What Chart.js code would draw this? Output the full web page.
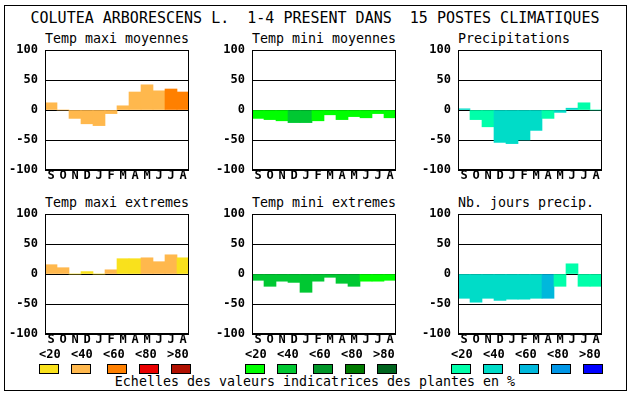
<!DOCTYPE html>
<html>
<head>
<meta charset="utf-8">
<script src="https://cdn.jsdelivr.net/npm/chart.js@4/dist/chart.umd.min.js"></script>
<style>
    body { margin: 0; background: #fff; }
    #page { position: relative; width: 630px; height: 394px; overflow: hidden; font-family: 'DejaVu Sans Mono', monospace; color: #000; }
    .frame { position: absolute; left: 4px; top: 5px; width: 621px; height: 384px; border: 1px solid #000; }
    .txt { position: absolute; white-space: pre; }
    .mainTitle { left: 0; width: 630px; top: 9px; text-align: center; font-size: 15px; line-height: 18px; }
    .panelTitle { font-size: 13.3px; line-height: 16px; }
    .lvl { font-size: 12px; font-weight: bold; line-height: 14px; }
    .box { position: absolute; width: 18px; height: 8px; border: 1px solid #000; }
    .footer { left: 0; width: 630px; top: 374px; text-align: center; font-size: 13.3px; line-height: 16px; }
    canvas { position: absolute; }
</style>
</head>
<body>
<div id="page">
    <div class="frame"></div>
    <div class="txt mainTitle">COLUTEA ARBORESCENS L.  1-4 PRESENT DANS  15 POSTES CLIMATIQUES</div>
    <div class="txt footer">Echelles des valeurs indicatrices des plantes en %</div>
</div>
<script>
/* DATA */
const months = ['S', 'O', 'N', 'D', 'J', 'F', 'M', 'A', 'M', 'J', 'J', 'A'];
const yTicks = [-100, -50, 0, 50, 100];
const levelLabels = ['<20', '<40', '<60', '<80', '>80'];

const tmaxColors = ['#f9e11c', '#ffb84d', '#ff8000', '#ea0000', '#b01000'];
const tminColors = ['#00ff00', '#00c832', '#009628', '#007a00', '#00641e'];
const precColors = ['#00ffaa', '#00dcc8', '#00b8dc', '#0096e6', '#0000ff'];

const tmaxMoy = [12, 0, -14, -23, -26, -6, 7, 30, 42, 32, 35, 30];
const tmaxMoyLevel = [1, 1, 1, 1, 1, 1, 1, 1, 1, 1, 2, 2];

const tminMoy = [-14, -16, -18, -21, -21, -18, -8, -16, -11, -13, -6, -13];
const tminMoyLevel = [0, 0, 0, 1, 1, 0, 0, 0, 0, 0, 0, 0];

const precip = [2, -16, -28, -54, -56, -50, -34, -14, -4, 3, 12, 0];
const precipLevel = [1, 0, 0, 1, 1, 1, 1, 0, 1, 1, 0, 0];

const tmaxExt = [15.5, 10.5, 0, 4, 0, 7, 25.5, 25.5, 27, 20.5, 32, 27];
const tmaxExtLevel = [1, 1, 0, 0, 0, 1, 0, 0, 1, 1, 1, 0];

const tminExt = [-10.5, -20.5, -12, -14, -30.5, -12, -5.5, -15.5, -20.5, -12, -12, -10.5];
const tminExtLevel = [1, 1, 1, 1, 1, 1, 1, 1, 1, 0, 0, 0];

const nbJours = [-40.5, -47, -40.5, -44, -42, -42, -40.5, -40.5, -20.5, 17, -20.5, -20.5];
const nbJoursLevel = [1, 1, 1, 1, 1, 1, 1, 2, 0, 0, 0, 0];

/* LAYOUT */
const page = document.getElementById('page');
const tickFont = { family: "'DejaVu Sans Mono', monospace", size: 12, weight: 'bold' };
const padTop = 16;

const panels = [
    { title: 'Temp maxi moyennes', values: tmaxMoy, levels: tmaxMoyLevel, colors: tmaxColors, left: 45, top: 50 },
    { title: 'Temp mini moyennes', values: tminMoy, levels: tminMoyLevel, colors: tminColors, left: 252, top: 50 },
    { title: 'Precipitations', values: precip, levels: precipLevel, colors: precColors, left: 458, top: 50 },
    { title: 'Temp maxi extremes', values: tmaxExt, levels: tmaxExtLevel, colors: tmaxColors, left: 45, top: 214 },
    { title: 'Temp mini extremes', values: tminExt, levels: tminExtLevel, colors: tminColors, left: 252, top: 214 },
    { title: 'Nb. jours precip.', values: nbJours, levels: nbJoursLevel, colors: precColors, left: 458, top: 214 }
];

/* plot frame drawn round the chart area */
const framePlugin = {
    id: 'frame',
    afterDraw(chart) {
        const { ctx, chartArea: a } = chart;
        ctx.save();
        ctx.strokeStyle = '#000';
        ctx.lineWidth = 1;
        ctx.strokeRect(a.left + 0.5, a.top + 0.5, a.width - 1, a.height - 1);
        ctx.restore();
    }
};

panels.forEach(p => {
    const t = document.createElement('div');
    t.className = 'txt panelTitle';
    t.style.left = p.left + 'px';
    t.style.top = (p.top - 19) + 'px';
    t.textContent = p.title;
    page.appendChild(t);

    const canvas = document.createElement('canvas');
    canvas.width = 192;
    canvas.height = padTop + 120 + 22;
    canvas.style.left = (p.left - 40) + 'px';
    canvas.style.top = (p.top - padTop) + 'px';
    page.appendChild(canvas);

    new Chart(canvas.getContext('2d'), {
        type: 'bar',
        data: {
            labels: months,
            datasets: [{
                data: p.values,
                backgroundColor: p.levels.map(l => p.colors[l]),
                borderWidth: 0,
                barPercentage: 1,
                categoryPercentage: 1
            }]
        },
        options: {
            responsive: false,
            animation: false,
            layout: { padding: { top: padTop, right: 8, left: 0, bottom: 0 } },
            plugins: { legend: { display: false }, tooltip: { enabled: false } },
            scales: {
                x: {
                    grid: { display: false, drawTicks: false },
                    border: { display: false },
                    ticks: { color: '#000', font: tickFont, padding: -1, maxRotation: 0, autoSkip: false },
                    afterFit: s => { s.height = 22; }
                },
                y: {
                    min: -100,
                    max: 100,
                    z: 1,
                    afterBuildTicks: s => { s.ticks = yTicks.map(v => ({ value: v })); },
                    grid: { color: '#000', lineWidth: 1, drawTicks: false },
                    border: { display: false },
                    ticks: { color: '#000', font: tickFont, padding: 7 },
                    afterFit: s => { s.width = 40; }
                }
            }
        },
        plugins: [framePlugin]
    });
});

/* Legend scales under each column */
[tmaxColors, tminColors, precColors].forEach((cols, c) => {
    const off = 39 + c * 206;
    cols.forEach((col, i) => {
        const lab = document.createElement('div');
        lab.className = 'txt lvl';
        lab.style.left = (off + i * 32) + 'px';
        lab.style.top = '347px';
        lab.textContent = levelLabels[i];
        page.appendChild(lab);

        const box = document.createElement('div');
        box.className = 'box';
        box.style.left = (off + i * 32 + (i >= 2 ? 4 : 0)) + 'px';
        box.style.top = '364px';
        box.style.background = col;
        page.appendChild(box);
    });
});
</script>
</body>
</html>
